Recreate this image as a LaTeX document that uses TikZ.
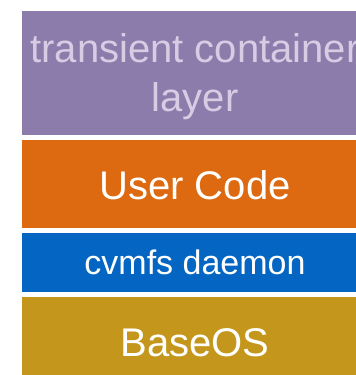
\documentclass[tikz,border=0pt]{standalone}
\usepackage{fontspec}
\setmainfont{Liberation Sans}

\definecolor{layerpurple}{HTML}{8B7CAB}
\definecolor{layerlavender}{HTML}{D6CDE4}
\definecolor{userorange}{HTML}{DD6A10}
\definecolor{cvmfsblue}{HTML}{0466C2}
\definecolor{baseosgold}{HTML}{C4971C}

\tikzset{
    layer/.style={fill=#1, draw=none, inner sep=0pt, outer sep=0pt,
        minimum width=346pt, align=center, text=white,
        font=\fontsize{40}{49}\selectfont},
}

\begin{document}
\begin{tikzpicture}[x=1pt, y=-1pt]
        \useasboundingbox (0,0) rectangle (356,375);
        \clip (0,0) rectangle (356,375);
        \node[layer=layerpurple, minimum height=123.5pt, text=layerlavender, text height=85pt] (transient) at (195,72.75) {transient container\\layer};
        \node[layer=userorange, minimum height=88pt, text height=31pt] (user) at (195,184) {User Code};
        \node[layer=cvmfsblue, minimum height=59pt, font=\fontsize{34}{40}\selectfont] (cvmfs) at (195,262.5) {cvmfs daemon};
        \node[layer=baseosgold, minimum height=91pt]   (baseos) at (195,342.5) {BaseOS};
    \end{tikzpicture}
\end{document}
